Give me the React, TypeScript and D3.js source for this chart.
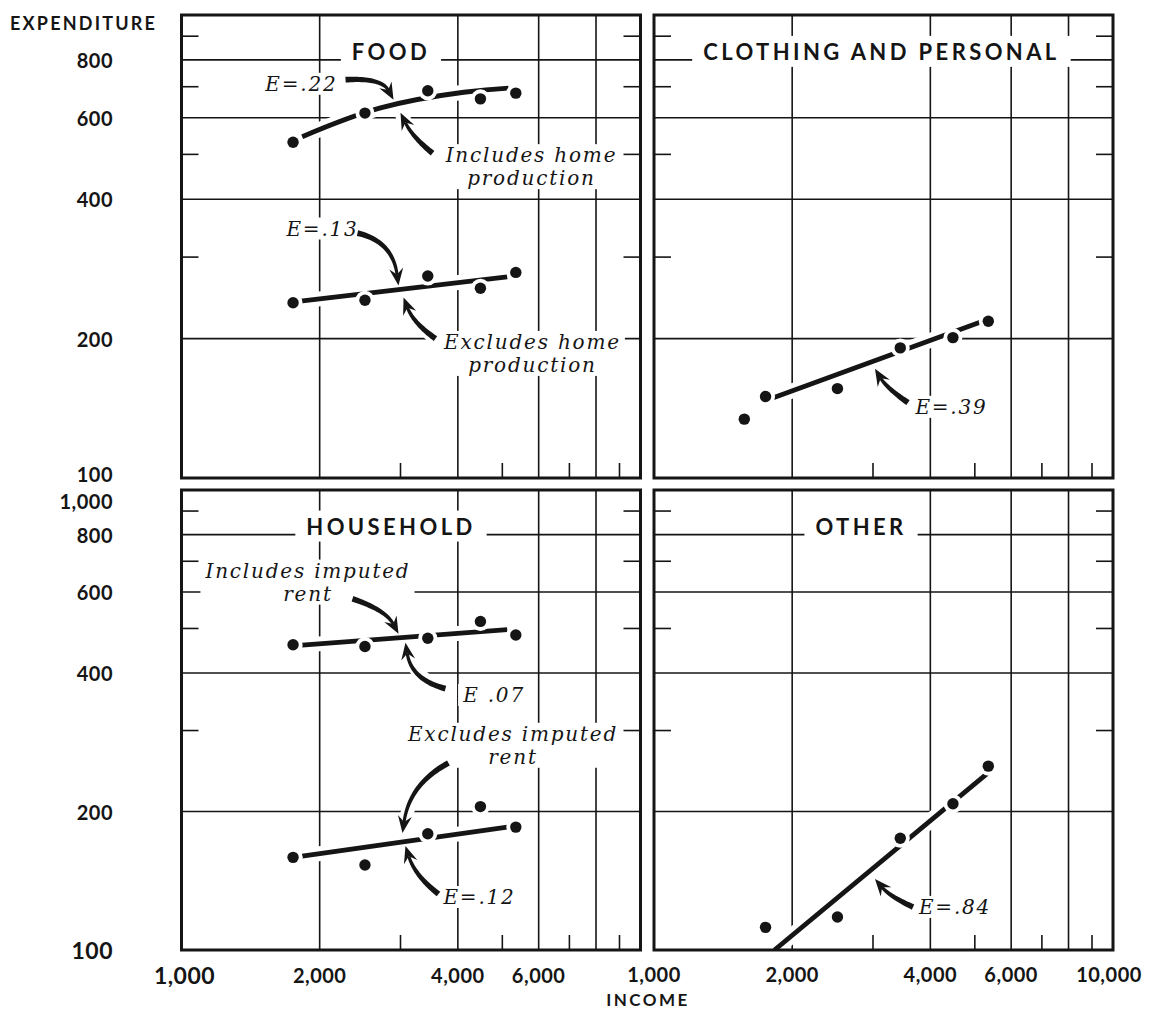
import React, { useEffect, useRef } from "react";
import * as d3 from "d3";

type Pt = [number, number];

// Five income groups (dollars) and mean expenditure per group.
const incomes = [1750, 2510, 3440, 4480, 5350];
const foodWithHome = [531, 614, 686, 659, 678];
const foodWithoutHome = [239, 242, 273, 257, 278];
const clothingIncomes = [1573, 1750, 2510, 3440, 4480, 5350];
const clothingPersonal = [134, 150, 156, 191, 201, 218];
const householdWithRent = [461, 457, 476, 518, 484];
const householdWithoutRent = [159, 153, 179, 205, 185];
const otherSpending = [112, 118, 175, 208, 251];

// Fitted elasticity curves, [income, expenditure].
const foodWithHomeFit: Pt[] = [[1832, 546], [2714, 630], [4121, 681], [5157, 695]];
const foodWithoutHomeFit: Pt[] = [[1817, 241], [5124, 272]];
const clothingFit: Pt[] = [[1820, 149], [5131, 217]];
const householdWithRentFit: Pt[] = [[1832, 460], [5124, 497]];
const householdWithoutRentFit: Pt[] = [[1832, 160], [5124, 185]];
const otherFit: Pt[] = [[1830, 100], [5350, 243]];

// Grid and tick values.
const incomeGrid = [2000, 4000, 6000, 8000];
const incomeMinor = [3000, 5000, 7000, 9000];
const spendGrid = [200, 400, 600, 800];
const spendMinor = [300, 500, 700, 900];
const spendLabelsTop = [800, 600, 400, 200, 100];
const spendLabelsBottom = [1000, 800, 600, 400, 200, 100];
const incomeLabelsLeft = [1000, 2000, 4000, 6000];
const incomeLabelsRight = [1000, 2000, 4000, 6000, 10000];

// Annotations: text anchored at [income, expenditure]; arrow = tail, bend, tip.
interface Note { lines: string[]; at: Pt; arrow: [Pt, Pt, Pt]; }

const foodNotes: Note[] = [
  { lines: ["E=.22"], at: [1825, 686], arrow: [[2277, 725], [2727, 732], [2897, 656]] },
  { lines: ["Includes home", "production"], at: [5787, 481], arrow: [[3523, 503], [3186, 545], [3000, 615]] },
  { lines: ["E=.13"], at: [2029, 334], arrow: [[2418, 338], [2883, 324.5], [2970, 260.6]] },
  { lines: ["Excludes home", "production"], at: [5817, 190], arrow: [[3576, 200], [3202, 216], [3046, 245.5]] },
];
const clothingNotes: Note[] = [
  { lines: ["E=.39"], at: [4448, 137.6], arrow: [[3576, 145.4], [3210, 156.6], [3030, 172.2]] },
];
const householdNotes: Note[] = [
  { lines: ["Includes imputed", "rent"], at: [1886, 645], arrow: [[2358, 580], [2783, 549], [2970, 487]] },
  { lines: ["E .07"], at: [4796, 346], arrow: [[3759, 370], [3170, 386.8], [3076, 465.6]] },
  { lines: ["Excludes imputed", "rent"], at: [5275, 285], arrow: [[3816, 255], [3139, 229.7], [3030, 179.7]] },
  { lines: ["E=.12"], at: [4460, 125.9], arrow: [[3630, 132.4], [3226, 144.9], [3076, 168.4]] },
];
const otherNotes: Note[] = [
  { lines: ["E=.84"], at: [4527, 119.8], arrow: [[3667, 124], [3267, 130.7], [3030, 142.7]] },
];

interface Series { xs: number[]; ys: number[]; }
interface Panel {
  title: string; col: number; row: number; titleAt: number;
  series: Series[]; fits: Pt[][]; notes: Note[];
}

const panels: Panel[] = [
  {
    title: "FOOD", col: 0, row: 0, titleAt: 2860,
    series: [{ xs: incomes, ys: foodWithHome }, { xs: incomes, ys: foodWithoutHome }],
    fits: [foodWithHomeFit, foodWithoutHomeFit], notes: foodNotes,
  },
  {
    title: "CLOTHING AND PERSONAL", col: 1, row: 0, titleAt: 3130,
    series: [{ xs: clothingIncomes, ys: clothingPersonal }],
    fits: [clothingFit], notes: clothingNotes,
  },
  {
    title: "HOUSEHOLD", col: 0, row: 1, titleAt: 2860,
    series: [{ xs: incomes, ys: householdWithRent }, { xs: incomes, ys: householdWithoutRent }],
    fits: [householdWithRentFit, householdWithoutRentFit], notes: householdNotes,
  },
  {
    title: "OTHER", col: 1, row: 1, titleAt: 2825,
    series: [{ xs: incomes, ys: otherSpending }],
    fits: [otherFit], notes: otherNotes,
  },
];

const W = 1152;
const H = 1012;
const INK = "#151515";
const SANS = "Lato, 'DejaVu Sans', sans-serif";
const SERIF = "'DejaVu Serif', serif";
const colRanges: Pt[] = [[181.5, 640.5], [654, 1113]];
const rowRanges: Pt[] = [[478, 15], [950, 490]];
const fmt = d3.format(",");

function quad(a: Pt, c: Pt, b: Pt, t: number): Pt {
  const u = 1 - t;
  return [u * u * a[0] + 2 * u * t * c[0] + t * t * b[0], u * u * a[1] + 2 * u * t * c[1] + t * t * b[1]];
}

export default function App() {
  const ref = useRef<SVGSVGElement>(null);

  useEffect(() => {
    const svg = d3.select(ref.current!);
    svg.selectAll("*").remove();
    svg.append("rect").attr("width", W).attr("height", H).attr("fill", "#fff");

    panels.forEach((p, pi) => {
      const x = d3.scaleLog().domain([1000, 10000]).range(colRanges[p.col]);
      const y = d3.scaleLog().domain([100, 1000]).range(rowRanges[p.row]);
      const [xl, xr] = x.range();
      const [yb, yt] = y.range();
      const g = svg.append("g");

      const clipId = `panel-clip-${pi}`;
      g.append("clipPath").attr("id", clipId)
        .append("rect").attr("x", xl).attr("y", yt).attr("width", xr - xl).attr("height", yb - yt);

      // grid
      const grid = g.append("g").attr("stroke", INK).attr("stroke-width", 1.6);
      incomeGrid.forEach((v) => grid.append("line").attr("x1", x(v)).attr("x2", x(v)).attr("y1", yt).attr("y2", yb));
      incomeMinor.forEach((v) => grid.append("line").attr("x1", x(v)).attr("x2", x(v)).attr("y1", yb - 15).attr("y2", yb));
      spendGrid.forEach((v) => grid.append("line").attr("x1", xl).attr("x2", xr).attr("y1", y(v)).attr("y2", y(v)));
      spendMinor.forEach((v) => {
        grid.append("line").attr("x1", xl).attr("x2", xl + 17).attr("y1", y(v)).attr("y2", y(v));
        grid.append("line").attr("x1", xr - 17).attr("x2", xr).attr("y1", y(v)).attr("y2", y(v));
      });

      const knock = g.append("g").attr("clip-path", `url(#${clipId})`);
      const marks = g.append("g");
      const text = g.append("g");

      // fitted lines
      const lineGen = d3.line<Pt>().x((d) => x(d[0])).y((d) => y(d[1])).curve(d3.curveNatural);
      p.fits.forEach((f) => {
        knock.append("path").attr("d", lineGen(f)!).attr("fill", "none")
          .attr("stroke", "#fff").attr("stroke-width", 15);
        marks.append("path").attr("d", lineGen(f)!).attr("fill", "none")
          .attr("stroke", INK).attr("stroke-width", 4.8).attr("stroke-linecap", "butt")
          .attr("clip-path", `url(#${clipId})`);
      });

      // annotation arrows
      p.notes.forEach((n) => {
        const [a, c, b] = n.arrow.map((d) => [x(d[0]), y(d[1])] as Pt);
        knock.append("path").attr("d", `M${a[0]},${a[1]}Q${c[0]},${c[1]} ${b[0]},${b[1]}`)
          .attr("fill", "none").attr("stroke", "#fff").attr("stroke-width", 13).attr("stroke-linecap", "round");
        const tx = b[0] - c[0], ty = b[1] - c[1];
        const tl = Math.hypot(tx, ty);
        const ux = tx / tl, uy = ty / tl;
        const headLen = 15, headHalf = 7;
        const base: Pt = [b[0] - ux * headLen, b[1] - uy * headLen];
        const end: Pt = [base[0] + ux * 4, base[1] + uy * 4];
        const N = 28;
        const left: Pt[] = [], right: Pt[] = [];
        for (let i = 0; i <= N; i++) {
          const t = i / N;
          const pt = quad(a, c, end, t);
          const u = 1 - t;
          const dx = 2 * u * (c[0] - a[0]) + 2 * t * (end[0] - c[0]);
          const dy = 2 * u * (c[1] - a[1]) + 2 * t * (end[1] - c[1]);
          const dl = Math.hypot(dx, dy) || 1;
          const nx = -dy / dl, ny = dx / dl;
          const w = (5.8 + (3.0 - 5.8) * t) / 2;
          left.push([pt[0] + nx * w, pt[1] + ny * w]);
          right.push([pt[0] - nx * w, pt[1] - ny * w]);
        }
        const shaft = [...left, ...right.reverse()];
        marks.append("path").attr("d", "M" + shaft.map((q) => q.join(",")).join("L") + "Z").attr("fill", INK);
        const nx = -uy, ny = ux;
        const head: Pt[] = [
          b,
          [base[0] + nx * headHalf - ux * 2, base[1] + ny * headHalf - uy * 2],
          [base[0] + ux * 4, base[1] + uy * 4],
          [base[0] - nx * headHalf - ux * 2, base[1] - ny * headHalf - uy * 2],
        ];
        marks.append("path").attr("d", "M" + head.map((q) => q.join(",")).join("L") + "Z").attr("fill", INK);
      });

      // points
      p.series.forEach((s) => {
        s.xs.forEach((xv, i) => {
          marks.append("circle").attr("cx", x(xv)).attr("cy", y(s.ys[i])).attr("r", 9.5).attr("fill", "#fff");
        });
      });
      p.series.forEach((s) => {
        s.xs.forEach((xv, i) => {
          marks.append("circle").attr("cx", x(xv)).attr("cy", y(s.ys[i])).attr("r", 5.7).attr("fill", INK);
        });
      });

      // annotation text
      p.notes.forEach((n) => {
        const t = text.append("text")
          .attr("x", x(n.at[0])).attr("y", y(n.at[1]))
          .attr("text-anchor", "middle")
          .attr("font-family", SERIF).attr("font-style", "italic")
          .attr("font-size", 20).attr("letter-spacing", 1.8).attr("fill", INK);
        n.lines.forEach((ln, i) => {
          t.append("tspan").attr("x", x(n.at[0])).attr("dy", i === 0 ? 0 : 23).text(ln);
        });
        const bb = (t.node() as SVGTextElement).getBBox();
        knock.append("rect").attr("x", bb.x - 4).attr("y", bb.y + 1).attr("width", bb.width + 8)
          .attr("height", bb.height - 2).attr("fill", "#fff");
      });

      // panel title, sitting on the 800 gridline
      const tt = text.append("text")
        .attr("x", x(p.titleAt)).attr("y", y(800))
        .attr("text-anchor", "middle")
        .attr("font-family", SANS).attr("font-weight", 700)
        .attr("font-size", 22).attr("letter-spacing", 3.4).attr("fill", INK)
        .text(p.title);
      const tb = (tt.node() as SVGTextElement).getBBox();
      knock.append("rect").attr("x", tb.x - 11).attr("y", tb.y - 2).attr("width", tb.width + 22)
        .attr("height", tb.height + 4).attr("fill", "#fff");

      // frame
      g.append("rect").attr("x", xl).attr("y", yt).attr("width", xr - xl).attr("height", yb - yt)
        .attr("fill", "none").attr("stroke", INK).attr("stroke-width", 3);
    });

    // axis labels
    const axis = svg.append("g").attr("font-family", SANS).attr("font-weight", 700).attr("fill", INK);
    const yTop = d3.scaleLog().domain([100, 1000]).range(rowRanges[0]);
    const yBot = d3.scaleLog().domain([100, 1000]).range(rowRanges[1]);
    spendLabelsTop.forEach((v) => {
      axis.append("text").attr("x", 113).attr("y", yTop(v) + (v === 100 ? -4 : 0))
        .attr("text-anchor", "end").attr("dominant-baseline", "central")
        .attr("font-size", 20).attr("letter-spacing", 0.5).text(fmt(v));
    });
    spendLabelsBottom.forEach((v) => {
      axis.append("text").attr("x", 113).attr("y", yBot(v) + (v === 1000 ? 11 : 0))
        .attr("text-anchor", "end").attr("dominant-baseline", "central")
        .attr("font-size", v === 100 ? 23 : 20).attr("letter-spacing", 0.5).text(fmt(v));
    });
    const xLeft = d3.scaleLog().domain([1000, 10000]).range(colRanges[0]);
    const xRight = d3.scaleLog().domain([1000, 10000]).range(colRanges[1]);
    incomeLabelsLeft.forEach((v) => {
      axis.append("text").attr("x", xLeft(v) + (v === 1000 ? 3 : 0)).attr("y", 975)
        .attr("text-anchor", "middle").attr("dominant-baseline", "central")
        .attr("font-size", v === 1000 ? 23 : 20).attr("letter-spacing", 0.5).text(fmt(v));
    });
    incomeLabelsRight.forEach((v) => {
      axis.append("text").attr("x", xRight(v) + (v === 10000 ? -4 : 0)).attr("y", 974)
        .attr("text-anchor", "middle").attr("dominant-baseline", "central")
        .attr("font-size", 20).attr("letter-spacing", 0.5).text(fmt(v));
    });
    axis.append("text").attr("x", 10).attr("y", 30).attr("font-size", 18).attr("letter-spacing", 2.2)
      .text("EXPENDITURE");
    axis.append("text").attr("x", 648).attr("y", 1006).attr("text-anchor", "middle")
      .attr("font-size", 17).attr("letter-spacing", 2.5).text("INCOME");
  }, []);

  return (
    <svg
      ref={ref}
      width={W}
      height={H}
      style={{ position: "absolute", left: 0, top: 0, display: "block" }}
    />
  );
}
